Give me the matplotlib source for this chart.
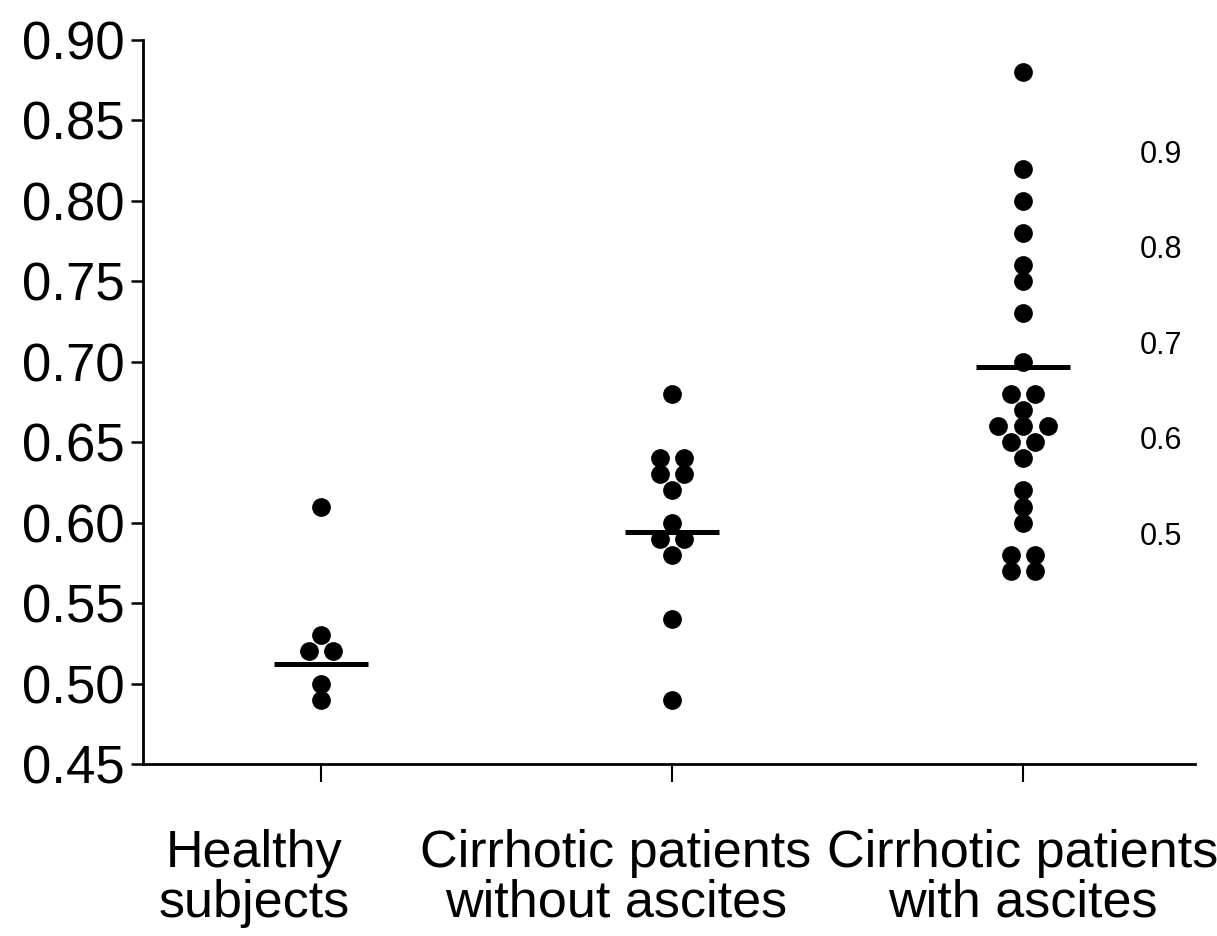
import numpy as np
import matplotlib
matplotlib.use("Agg")
import matplotlib.pyplot as plt
from matplotlib.transforms import blended_transform_factory

plt.rcParams['font.family'] = ['Liberation Sans', 'DejaVu Sans']

# values
groups = ['Healthy\nsubjects', 'Cirrhotic patients\nwithout ascites', 'Cirrhotic patients\nwith ascites']
healthy = [0.61, 0.53, 0.52, 0.52, 0.50, 0.49]
no_ascites = [0.68, 0.64, 0.64, 0.63, 0.63, 0.62, 0.60, 0.59, 0.59, 0.58, 0.54, 0.49]
ascites = [0.88, 0.82, 0.80, 0.78, 0.76, 0.75, 0.73, 0.70, 0.68, 0.68, 0.67, 0.66,
           0.66, 0.66, 0.65, 0.65, 0.64, 0.62, 0.61, 0.60, 0.58, 0.58, 0.57, 0.57]
group_lines = [0.512, 0.594, 0.697]
yticks = [0.45, 0.50, 0.55, 0.60, 0.65, 0.70, 0.75, 0.80, 0.85, 0.90]
right_labels = [0.9, 0.8, 0.7, 0.6, 0.5]

fig = plt.figure(figsize=(12.17, 9.36), dpi=100)
ax = fig.add_axes([0.1175, 0.1838, 0.8644, 0.7735])


# spread tied values side by side
def spread(vals, step=0.07):
    vals = np.asarray(vals)
    off = np.zeros(len(vals))
    for v in np.unique(vals):
        idx = np.where(vals == v)[0]
        off[idx] = (np.arange(len(idx)) - (len(idx) - 1) / 2) * step
    return off


for i, vals in enumerate([healthy, no_ascites, ascites]):
    ax.plot(i + spread(vals), vals, 'o', color='black', markersize=13.5, markeredgewidth=0)
    ax.hlines(group_lines[i], i - 0.133, i + 0.133, color='black', linewidth=3.6)

ax.set_xlim(-0.507, 2.49)
ax.set_ylim(0.45, 0.90)
ax.set_yticks(yticks)
ax.set_yticklabels([f'{t:.2f}' for t in yticks], fontsize=38)
ax.set_xticks([0, 1, 2])
ax.set_xticklabels([])
ax.tick_params(axis='y', direction='out', length=9, width=1.8, pad=4)
ax.tick_params(axis='x', direction='out', length=13, width=1.5)
for s in ['top', 'right']:
    ax.spines[s].set_visible(False)
for s in ['left', 'bottom']:
    ax.spines[s].set_linewidth(2)

# category labels, first two sit a bit left of their ticks
shift = [-0.19, -0.16, 0.0]
for i, g in enumerate(groups):
    l1, l2 = g.split('\n')
    ax.text(i + shift[i], -0.1423, l1, transform=blended_transform_factory(ax.transData, ax.transAxes),
            fontsize=37.5, ha='center', va='baseline')
    ax.text(i + shift[i], -0.2113, l2, transform=blended_transform_factory(ax.transData, ax.transAxes),
            fontsize=37.5, ha='center', va='baseline')

# second scale written inside the plot on the right
ax2 = ax.twinx()
ax2.set_ylim(0.2623, 1.0204)
ax2.axis('off')
tr = blended_transform_factory(ax.transAxes, ax2.transData)
for v in right_labels:
    ax2.text(0.9476, v, f'{v:.1f}', transform=tr, fontsize=22, ha='left', va='center')

fig.savefig('out.png', dpi=100)
